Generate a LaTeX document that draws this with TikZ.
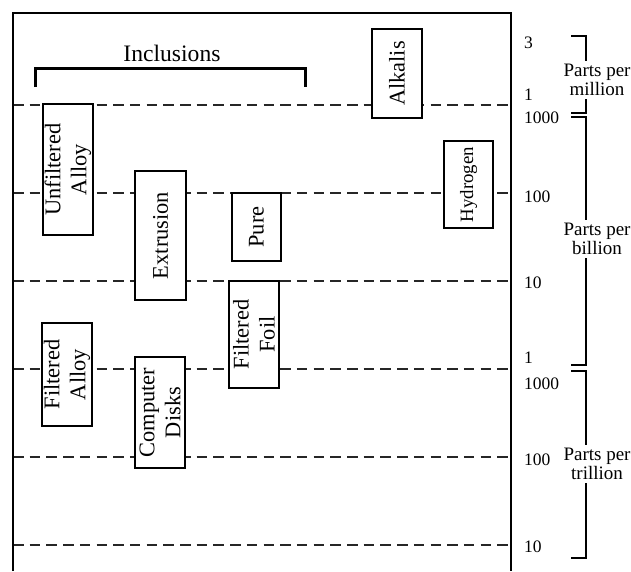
\documentclass[tikz,border=0pt]{standalone}
\usepackage{fontspec}
\setmainfont{Liberation Serif}
\begin{document}
\begin{tikzpicture}[x=1pt,y=-1pt,
  frameline/.style={line width=1.6pt},
  gridline/.style={line width=1.3pt, dash pattern=on 10.5pt off 6.2pt, black!85},
  box/.style={draw, fill=white, line width=1.2pt, rotate=90, align=center, inner sep=0pt,
     font=\fontsize{22.4}{26}\selectfont},
  scalenum/.style={anchor=west, inner sep=0pt, font=\fontsize{17.5}{18}\selectfont},
  unitlabel/.style={align=center, inner sep=3pt, font=\fontsize{19}{19}\selectfont},
  brace/.style={line width=1.5pt},
  inclbrace/.style={line width=3pt}
]
\useasboundingbox (0,0) rectangle (631,571);
% dashed lines
\foreach \yy in {105,193,281,369,457,545}
  \draw[gridline] (13,\yy) -- (511,\yy);
% frame
\draw[frameline] (13,571) -- (13,13) -- (511,13) -- (511,571);
% inclusions bracket
\node[inner sep=0pt, font=\fontsize{23.6}{24}\selectfont] (incl) at (172,53) {Inclusions};
\draw[inclbrace] (35,87) -- (35,68) -- (305,68) -- (305,87);
% boxes
\node[box, minimum width=131pt, minimum height=50pt] (ua) at (68,169.5) {Unfiltered\\Alloy};
\node[box, minimum width=129pt, minimum height=51pt] (ex) at (160.5,235.5) {Extrusion};
\node[box, minimum width=68pt, minimum height=49pt] (pu) at (256.5,227) {Pure};
\node[box, minimum width=107pt, minimum height=50pt] (ff) at (254,334.5) {Filtered\\Foil};
\node[box, minimum width=103pt, minimum height=50pt] (fa) at (67,374.5) {Filtered\\Alloy};
\node[box, minimum width=111pt, minimum height=50pt] (cd) at (160,412.5) {Computer\\Disks};
\node[box, minimum width=89pt, minimum height=50pt] (ak) at (397,73.5) {Alkalis};
\node[box, minimum width=87pt, minimum height=49pt, font=\fontsize{18.8}{22}\selectfont] (hy) at (468.5,184.5) {Hydrogen};
% scale numbers
\node[scalenum] (n3) at (524,43) {3};
\node[scalenum] (n1a) at (524,95) {1};
\node[scalenum] (n1000a) at (524,118) {1000};
\node[scalenum] (n100a) at (524,197) {100};
\node[scalenum] (n10a) at (524,283) {10};
\node[scalenum] (n1b) at (524,358) {1};
\node[scalenum] (n1000b) at (524,384) {1000};
\node[scalenum] (n100b) at (524,460) {100};
\node[scalenum] (n10b) at (524,547) {10};
% unit labels
\node[unitlabel] (pm) at (597,80) {Parts per\\million};
\node[unitlabel] (pb) at (597,239) {Parts per\\billion};
\node[unitlabel] (pt) at (597,464) {Parts per\\trillion};
% right brackets
\coordinate (mt) at (586,36);
\coordinate (mb) at (586,113);
\coordinate (bt) at (586,117);
\coordinate (bb) at (586,365);
\coordinate (tt) at (586,371);
\coordinate (tb) at (586,558);
\draw[brace] (571,36) -- (mt) -- (mt |- pm.north);
\draw[brace] (mb |- pm.south) -- (mb) -- (571,113);
\draw[brace] (571,117) -- (bt) -- (bt |- pb.north);
\draw[brace] (bb |- pb.south) -- (bb) -- (571,365);
\draw[brace] (571,371) -- (tt) -- (tt |- pt.north);
\draw[brace] (tb |- pt.south) -- (tb) -- (571,558);
\end{tikzpicture}
\end{document}
